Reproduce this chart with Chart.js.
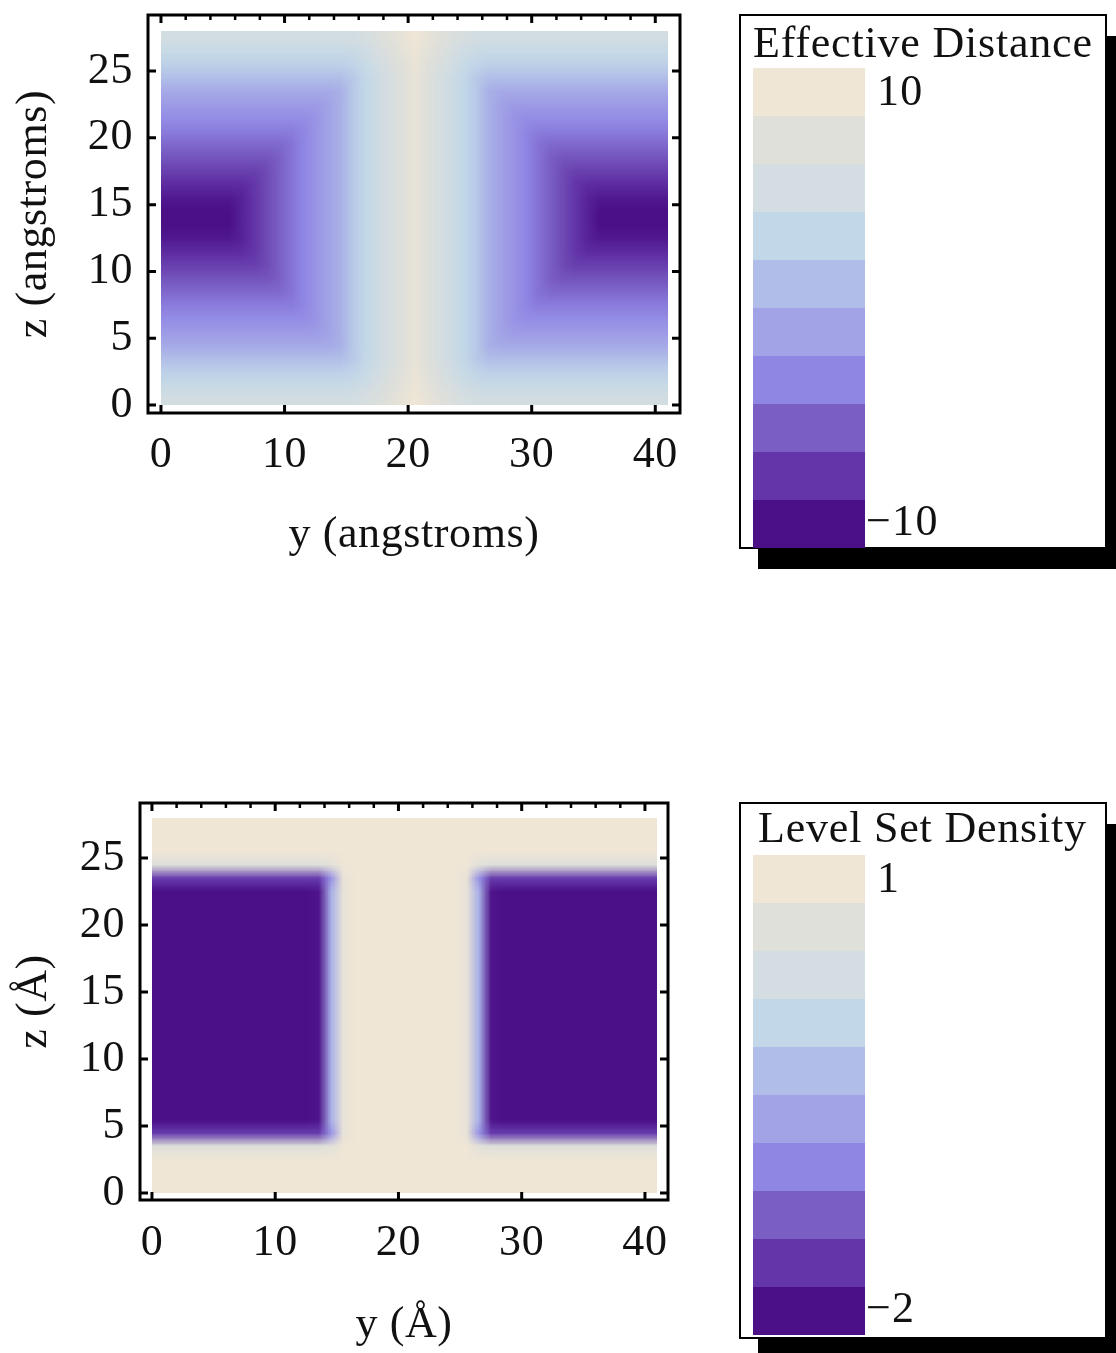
<!DOCTYPE html>
<html>
<head>
<meta charset="utf-8">
<title>Effective distance and level set density</title>
<script src="https://cdn.jsdelivr.net/npm/chart.js@4.4.1/dist/chart.umd.min.js"></script>
<style>
  body { margin: 0; background: #fff; }
  canvas { position: absolute; left: 0; display: block; }
  #distanceChart { top: 0; }
  #densityChart { top: 790px; }
</style>
</head>
<body>
<canvas id="distanceChart" width="1116" height="590"></canvas>
<canvas id="densityChart" width="1116" height="563"></canvas>
<script>
// Grid cell centres in angstroms (each cell is 1 A square)
const yCells = [0.5, 1.5, 2.5, 3.5, 4.5, 5.5, 6.5, 7.5, 8.5, 9.5, 10.5, 11.5, 12.5, 13.5, 14.5, 15.5, 16.5, 17.5, 18.5, 19.5, 20.5,
                21.5, 22.5, 23.5, 24.5, 25.5, 26.5, 27.5, 28.5, 29.5, 30.5, 31.5, 32.5, 33.5, 34.5, 35.5, 36.5, 37.5, 38.5, 39.5, 40.5];
const zCells = [0.5, 1.5, 2.5, 3.5, 4.5, 5.5, 6.5, 7.5, 8.5, 9.5, 10.5, 11.5, 12.5, 13.5,
                14.5, 15.5, 16.5, 17.5, 18.5, 19.5, 20.5, 21.5, 22.5, 23.5, 24.5, 25.5, 26.5, 27.5];

// Axis ticks
const yTicks = [0, 10, 20, 30, 40];
const yMinorTicks = [2, 4, 6, 8, 12, 14, 16, 18, 22, 24, 26, 28, 32, 34, 36, 38];
const zTicks = [0, 5, 10, 15, 20, 25];

// Colour levels, lowest value first
const levelColours = ['#4b0f86', '#6335a8', '#7a5ec4', '#8f86e4', '#a2a2e6',
                      '#b0bde8', '#c2d8e8', '#d3dde2', '#e0e0da', '#efe6d6'];
const distanceRange = [-10, 10];
const densityRange = [-2, 1];
const distanceLegendLabels = ['10', '\u221210'];
const densityLegendLabels = ['1', '\u22122'];

// Effective distance, one row per z cell (bottom row first)
const distanceRows = [
  [4.9, 4.9, 4.9, 4.9, 4.9, 4.9, 4.9, 4.9, 4.9, 4.9, 4.9, 4.9, 4.9, 4.9, 4.9, 5.0, 5.5, 6.3, 7.1, 8.1, 9.1, 8.1, 7.1, 6.3, 5.5, 5.0, 4.9, 4.9, 4.9, 4.9, 4.9, 4.9, 4.9, 4.9, 4.9, 4.9, 4.9, 4.9, 4.9, 4.9, 4.9],
  [3.6, 3.6, 3.6, 3.6, 3.6, 3.6, 3.6, 3.6, 3.6, 3.6, 3.6, 3.6, 3.6, 3.6, 3.6, 3.9, 4.5, 5.4, 6.4, 7.5, 8.6, 7.5, 6.4, 5.4, 4.5, 3.9, 3.6, 3.6, 3.6, 3.6, 3.6, 3.6, 3.6, 3.6, 3.6, 3.6, 3.6, 3.6, 3.6, 3.6, 3.6],
  [2.4, 2.4, 2.4, 2.4, 2.4, 2.4, 2.4, 2.4, 2.4, 2.4, 2.4, 2.4, 2.4, 2.4, 2.4, 2.8, 3.6, 4.8, 5.9, 7.0, 8.3, 7.0, 5.9, 4.8, 3.6, 2.8, 2.4, 2.4, 2.4, 2.4, 2.4, 2.4, 2.4, 2.4, 2.4, 2.4, 2.4, 2.4, 2.4, 2.4, 2.4],
  [1.1, 1.1, 1.1, 1.1, 1.1, 1.1, 1.1, 1.1, 1.1, 1.1, 1.1, 1.1, 1.1, 1.1, 1.1, 1.9, 3.1, 4.3, 5.5, 6.8, 8.0, 6.8, 5.5, 4.3, 3.1, 1.9, 1.1, 1.1, 1.1, 1.1, 1.1, 1.1, 1.1, 1.1, 1.1, 1.1, 1.1, 1.1, 1.1, 1.1, 1.1],
  [-0.5, -0.5, -0.5, -0.5, -0.5, -0.5, -0.5, -0.5, -0.5, -0.5, -0.5, -0.5, -0.5, -0.5, 0, 1.8, 3.0, 4.3, 5.5, 6.8, 8.0, 6.8, 5.5, 4.3, 3.0, 1.8, 0, -0.5, -0.5, -0.5, -0.5, -0.5, -0.5, -0.5, -0.5, -0.5, -0.5, -0.5, -0.5, -0.5, -0.5],
  [-1.5, -1.5, -1.5, -1.5, -1.5, -1.5, -1.5, -1.5, -1.5, -1.5, -1.5, -1.5, -1.5, -1, 0, 1.8, 3.0, 4.3, 5.5, 6.8, 8.0, 6.8, 5.5, 4.3, 3.0, 1.8, 0, -1, -1.5, -1.5, -1.5, -1.5, -1.5, -1.5, -1.5, -1.5, -1.5, -1.5, -1.5, -1.5, -1.5],
  [-2.5, -2.5, -2.5, -2.5, -2.5, -2.5, -2.5, -2.5, -2.5, -2.5, -2.5, -2.5, -2, -1, 0, 1.8, 3.0, 4.3, 5.5, 6.8, 8.0, 6.8, 5.5, 4.3, 3.0, 1.8, 0, -1, -2, -2.5, -2.5, -2.5, -2.5, -2.5, -2.5, -2.5, -2.5, -2.5, -2.5, -2.5, -2.5],
  [-3.5, -3.5, -3.5, -3.5, -3.5, -3.5, -3.5, -3.5, -3.5, -3.5, -3.5, -3, -2, -1, 0, 1.8, 3.0, 4.3, 5.5, 6.8, 8.0, 6.8, 5.5, 4.3, 3.0, 1.8, 0, -1, -2, -3, -3.5, -3.5, -3.5, -3.5, -3.5, -3.5, -3.5, -3.5, -3.5, -3.5, -3.5],
  [-4.5, -4.5, -4.5, -4.5, -4.5, -4.5, -4.5, -4.5, -4.5, -4.5, -4, -3, -2, -1, 0, 1.8, 3.0, 4.3, 5.5, 6.8, 8.0, 6.8, 5.5, 4.3, 3.0, 1.8, 0, -1, -2, -3, -4, -4.5, -4.5, -4.5, -4.5, -4.5, -4.5, -4.5, -4.5, -4.5, -4.5],
  [-5.5, -5.5, -5.5, -5.5, -5.5, -5.5, -5.5, -5.5, -5.5, -5, -4, -3, -2, -1, 0, 1.8, 3.0, 4.3, 5.5, 6.8, 8.0, 6.8, 5.5, 4.3, 3.0, 1.8, 0, -1, -2, -3, -4, -5, -5.5, -5.5, -5.5, -5.5, -5.5, -5.5, -5.5, -5.5, -5.5],
  [-6.5, -6.5, -6.5, -6.5, -6.5, -6.5, -6.5, -6.5, -6, -5, -4, -3, -2, -1, 0, 1.8, 3.0, 4.3, 5.5, 6.8, 8.0, 6.8, 5.5, 4.3, 3.0, 1.8, 0, -1, -2, -3, -4, -5, -6, -6.5, -6.5, -6.5, -6.5, -6.5, -6.5, -6.5, -6.5],
  [-7.5, -7.5, -7.5, -7.5, -7.5, -7.5, -7.5, -7, -6, -5, -4, -3, -2, -1, 0, 1.8, 3.0, 4.3, 5.5, 6.8, 8.0, 6.8, 5.5, 4.3, 3.0, 1.8, 0, -1, -2, -3, -4, -5, -6, -7, -7.5, -7.5, -7.5, -7.5, -7.5, -7.5, -7.5],
  [-8.5, -8.5, -8.5, -8.5, -8.5, -8.5, -8, -7, -6, -5, -4, -3, -2, -1, 0, 1.8, 3.0, 4.3, 5.5, 6.8, 8.0, 6.8, 5.5, 4.3, 3.0, 1.8, 0, -1, -2, -3, -4, -5, -6, -7, -8, -8.5, -8.5, -8.5, -8.5, -8.5, -8.5],
  [-9.5, -9.5, -9.5, -9.5, -9.5, -9, -8, -7, -6, -5, -4, -3, -2, -1, 0, 1.8, 3.0, 4.3, 5.5, 6.8, 8.0, 6.8, 5.5, 4.3, 3.0, 1.8, 0, -1, -2, -3, -4, -5, -6, -7, -8, -9, -9.5, -9.5, -9.5, -9.5, -9.5],
  [-9.5, -9.5, -9.5, -9.5, -9.5, -9, -8, -7, -6, -5, -4, -3, -2, -1, 0, 1.8, 3.0, 4.3, 5.5, 6.8, 8.0, 6.8, 5.5, 4.3, 3.0, 1.8, 0, -1, -2, -3, -4, -5, -6, -7, -8, -9, -9.5, -9.5, -9.5, -9.5, -9.5],
  [-8.5, -8.5, -8.5, -8.5, -8.5, -8.5, -8, -7, -6, -5, -4, -3, -2, -1, 0, 1.8, 3.0, 4.3, 5.5, 6.8, 8.0, 6.8, 5.5, 4.3, 3.0, 1.8, 0, -1, -2, -3, -4, -5, -6, -7, -8, -8.5, -8.5, -8.5, -8.5, -8.5, -8.5],
  [-7.5, -7.5, -7.5, -7.5, -7.5, -7.5, -7.5, -7, -6, -5, -4, -3, -2, -1, 0, 1.8, 3.0, 4.3, 5.5, 6.8, 8.0, 6.8, 5.5, 4.3, 3.0, 1.8, 0, -1, -2, -3, -4, -5, -6, -7, -7.5, -7.5, -7.5, -7.5, -7.5, -7.5, -7.5],
  [-6.5, -6.5, -6.5, -6.5, -6.5, -6.5, -6.5, -6.5, -6, -5, -4, -3, -2, -1, 0, 1.8, 3.0, 4.3, 5.5, 6.8, 8.0, 6.8, 5.5, 4.3, 3.0, 1.8, 0, -1, -2, -3, -4, -5, -6, -6.5, -6.5, -6.5, -6.5, -6.5, -6.5, -6.5, -6.5],
  [-5.5, -5.5, -5.5, -5.5, -5.5, -5.5, -5.5, -5.5, -5.5, -5, -4, -3, -2, -1, 0, 1.8, 3.0, 4.3, 5.5, 6.8, 8.0, 6.8, 5.5, 4.3, 3.0, 1.8, 0, -1, -2, -3, -4, -5, -5.5, -5.5, -5.5, -5.5, -5.5, -5.5, -5.5, -5.5, -5.5],
  [-4.5, -4.5, -4.5, -4.5, -4.5, -4.5, -4.5, -4.5, -4.5, -4.5, -4, -3, -2, -1, 0, 1.8, 3.0, 4.3, 5.5, 6.8, 8.0, 6.8, 5.5, 4.3, 3.0, 1.8, 0, -1, -2, -3, -4, -4.5, -4.5, -4.5, -4.5, -4.5, -4.5, -4.5, -4.5, -4.5, -4.5],
  [-3.5, -3.5, -3.5, -3.5, -3.5, -3.5, -3.5, -3.5, -3.5, -3.5, -3.5, -3, -2, -1, 0, 1.8, 3.0, 4.3, 5.5, 6.8, 8.0, 6.8, 5.5, 4.3, 3.0, 1.8, 0, -1, -2, -3, -3.5, -3.5, -3.5, -3.5, -3.5, -3.5, -3.5, -3.5, -3.5, -3.5, -3.5],
  [-2.5, -2.5, -2.5, -2.5, -2.5, -2.5, -2.5, -2.5, -2.5, -2.5, -2.5, -2.5, -2, -1, 0, 1.8, 3.0, 4.3, 5.5, 6.8, 8.0, 6.8, 5.5, 4.3, 3.0, 1.8, 0, -1, -2, -2.5, -2.5, -2.5, -2.5, -2.5, -2.5, -2.5, -2.5, -2.5, -2.5, -2.5, -2.5],
  [-1.5, -1.5, -1.5, -1.5, -1.5, -1.5, -1.5, -1.5, -1.5, -1.5, -1.5, -1.5, -1.5, -1, 0, 1.8, 3.0, 4.3, 5.5, 6.8, 8.0, 6.8, 5.5, 4.3, 3.0, 1.8, 0, -1, -1.5, -1.5, -1.5, -1.5, -1.5, -1.5, -1.5, -1.5, -1.5, -1.5, -1.5, -1.5, -1.5],
  [-0.5, -0.5, -0.5, -0.5, -0.5, -0.5, -0.5, -0.5, -0.5, -0.5, -0.5, -0.5, -0.5, -0.5, 0, 1.8, 3.0, 4.3, 5.5, 6.8, 8.0, 6.8, 5.5, 4.3, 3.0, 1.8, 0, -0.5, -0.5, -0.5, -0.5, -0.5, -0.5, -0.5, -0.5, -0.5, -0.5, -0.5, -0.5, -0.5, -0.5],
  [1.1, 1.1, 1.1, 1.1, 1.1, 1.1, 1.1, 1.1, 1.1, 1.1, 1.1, 1.1, 1.1, 1.1, 1.1, 1.9, 3.1, 4.3, 5.5, 6.8, 8.0, 6.8, 5.5, 4.3, 3.1, 1.9, 1.1, 1.1, 1.1, 1.1, 1.1, 1.1, 1.1, 1.1, 1.1, 1.1, 1.1, 1.1, 1.1, 1.1, 1.1],
  [2.4, 2.4, 2.4, 2.4, 2.4, 2.4, 2.4, 2.4, 2.4, 2.4, 2.4, 2.4, 2.4, 2.4, 2.4, 2.8, 3.6, 4.8, 5.9, 7.0, 8.3, 7.0, 5.9, 4.8, 3.6, 2.8, 2.4, 2.4, 2.4, 2.4, 2.4, 2.4, 2.4, 2.4, 2.4, 2.4, 2.4, 2.4, 2.4, 2.4, 2.4],
  [3.6, 3.6, 3.6, 3.6, 3.6, 3.6, 3.6, 3.6, 3.6, 3.6, 3.6, 3.6, 3.6, 3.6, 3.6, 3.9, 4.5, 5.4, 6.4, 7.5, 8.6, 7.5, 6.4, 5.4, 4.5, 3.9, 3.6, 3.6, 3.6, 3.6, 3.6, 3.6, 3.6, 3.6, 3.6, 3.6, 3.6, 3.6, 3.6, 3.6, 3.6],
  [4.9, 4.9, 4.9, 4.9, 4.9, 4.9, 4.9, 4.9, 4.9, 4.9, 4.9, 4.9, 4.9, 4.9, 4.9, 5.0, 5.5, 6.3, 7.1, 8.1, 9.1, 8.1, 7.1, 6.3, 5.5, 5.0, 4.9, 4.9, 4.9, 4.9, 4.9, 4.9, 4.9, 4.9, 4.9, 4.9, 4.9, 4.9, 4.9, 4.9, 4.9]
];

// Level set density, one row per z cell (bottom row first)
const densityRows = [
  [1, 1, 1, 1, 1, 1, 1, 1, 1, 1, 1, 1, 1, 1, 1, 1, 1, 1, 1, 1, 1, 1, 1, 1, 1, 1, 1, 1, 1, 1, 1, 1, 1, 1, 1, 1, 1, 1, 1, 1, 1],
  [1, 1, 1, 1, 1, 1, 1, 1, 1, 1, 1, 1, 1, 1, 1, 1, 1, 1, 1, 1, 1, 1, 1, 1, 1, 1, 1, 1, 1, 1, 1, 1, 1, 1, 1, 1, 1, 1, 1, 1, 1],
  [1, 1, 1, 1, 1, 1, 1, 1, 1, 1, 1, 1, 1, 1, 1, 1, 1, 1, 1, 1, 1, 1, 1, 1, 1, 1, 1, 1, 1, 1, 1, 1, 1, 1, 1, 1, 1, 1, 1, 1, 1],
  [0.5, 0.5, 0.5, 0.5, 0.5, 0.5, 0.5, 0.5, 0.5, 0.5, 0.5, 0.5, 0.5, 0.5, 0.6, 0.9, 1, 1, 1, 1, 1, 1, 1, 1, 1, 0.9, 0.6, 0.5, 0.5, 0.5, 0.5, 0.5, 0.5, 0.5, 0.5, 0.5, 0.5, 0.5, 0.5, 0.5, 0.5],
  [-1.5, -1.5, -1.5, -1.5, -1.5, -1.5, -1.5, -1.5, -1.5, -1.5, -1.5, -1.5, -1.5, -1.5, -0.8, 0.7, 1, 1, 1, 1, 1, 1, 1, 1, 1, 0.7, -0.8, -1.5, -1.5, -1.5, -1.5, -1.5, -1.5, -1.5, -1.5, -1.5, -1.5, -1.5, -1.5, -1.5, -1.5],
  [-2, -2, -2, -2, -2, -2, -2, -2, -2, -2, -2, -2, -2, -1.8, -0.5, 0.7, 1, 1, 1, 1, 1, 1, 1, 1, 1, 0.7, -0.5, -1.8, -2, -2, -2, -2, -2, -2, -2, -2, -2, -2, -2, -2, -2],
  [-2, -2, -2, -2, -2, -2, -2, -2, -2, -2, -2, -2, -2, -1.8, -0.5, 0.7, 1, 1, 1, 1, 1, 1, 1, 1, 1, 0.7, -0.5, -1.8, -2, -2, -2, -2, -2, -2, -2, -2, -2, -2, -2, -2, -2],
  [-2, -2, -2, -2, -2, -2, -2, -2, -2, -2, -2, -2, -2, -1.8, -0.5, 0.7, 1, 1, 1, 1, 1, 1, 1, 1, 1, 0.7, -0.5, -1.8, -2, -2, -2, -2, -2, -2, -2, -2, -2, -2, -2, -2, -2],
  [-2, -2, -2, -2, -2, -2, -2, -2, -2, -2, -2, -2, -2, -1.8, -0.5, 0.7, 1, 1, 1, 1, 1, 1, 1, 1, 1, 0.7, -0.5, -1.8, -2, -2, -2, -2, -2, -2, -2, -2, -2, -2, -2, -2, -2],
  [-2, -2, -2, -2, -2, -2, -2, -2, -2, -2, -2, -2, -2, -1.8, -0.5, 0.7, 1, 1, 1, 1, 1, 1, 1, 1, 1, 0.7, -0.5, -1.8, -2, -2, -2, -2, -2, -2, -2, -2, -2, -2, -2, -2, -2],
  [-2, -2, -2, -2, -2, -2, -2, -2, -2, -2, -2, -2, -2, -1.8, -0.5, 0.7, 1, 1, 1, 1, 1, 1, 1, 1, 1, 0.7, -0.5, -1.8, -2, -2, -2, -2, -2, -2, -2, -2, -2, -2, -2, -2, -2],
  [-2, -2, -2, -2, -2, -2, -2, -2, -2, -2, -2, -2, -2, -1.8, -0.5, 0.7, 1, 1, 1, 1, 1, 1, 1, 1, 1, 0.7, -0.5, -1.8, -2, -2, -2, -2, -2, -2, -2, -2, -2, -2, -2, -2, -2],
  [-2, -2, -2, -2, -2, -2, -2, -2, -2, -2, -2, -2, -2, -1.8, -0.5, 0.7, 1, 1, 1, 1, 1, 1, 1, 1, 1, 0.7, -0.5, -1.8, -2, -2, -2, -2, -2, -2, -2, -2, -2, -2, -2, -2, -2],
  [-2, -2, -2, -2, -2, -2, -2, -2, -2, -2, -2, -2, -2, -1.8, -0.5, 0.7, 1, 1, 1, 1, 1, 1, 1, 1, 1, 0.7, -0.5, -1.8, -2, -2, -2, -2, -2, -2, -2, -2, -2, -2, -2, -2, -2],
  [-2, -2, -2, -2, -2, -2, -2, -2, -2, -2, -2, -2, -2, -1.8, -0.5, 0.7, 1, 1, 1, 1, 1, 1, 1, 1, 1, 0.7, -0.5, -1.8, -2, -2, -2, -2, -2, -2, -2, -2, -2, -2, -2, -2, -2],
  [-2, -2, -2, -2, -2, -2, -2, -2, -2, -2, -2, -2, -2, -1.8, -0.5, 0.7, 1, 1, 1, 1, 1, 1, 1, 1, 1, 0.7, -0.5, -1.8, -2, -2, -2, -2, -2, -2, -2, -2, -2, -2, -2, -2, -2],
  [-2, -2, -2, -2, -2, -2, -2, -2, -2, -2, -2, -2, -2, -1.8, -0.5, 0.7, 1, 1, 1, 1, 1, 1, 1, 1, 1, 0.7, -0.5, -1.8, -2, -2, -2, -2, -2, -2, -2, -2, -2, -2, -2, -2, -2],
  [-2, -2, -2, -2, -2, -2, -2, -2, -2, -2, -2, -2, -2, -1.8, -0.5, 0.7, 1, 1, 1, 1, 1, 1, 1, 1, 1, 0.7, -0.5, -1.8, -2, -2, -2, -2, -2, -2, -2, -2, -2, -2, -2, -2, -2],
  [-2, -2, -2, -2, -2, -2, -2, -2, -2, -2, -2, -2, -2, -1.8, -0.5, 0.7, 1, 1, 1, 1, 1, 1, 1, 1, 1, 0.7, -0.5, -1.8, -2, -2, -2, -2, -2, -2, -2, -2, -2, -2, -2, -2, -2],
  [-2, -2, -2, -2, -2, -2, -2, -2, -2, -2, -2, -2, -2, -1.8, -0.5, 0.7, 1, 1, 1, 1, 1, 1, 1, 1, 1, 0.7, -0.5, -1.8, -2, -2, -2, -2, -2, -2, -2, -2, -2, -2, -2, -2, -2],
  [-2, -2, -2, -2, -2, -2, -2, -2, -2, -2, -2, -2, -2, -1.8, -0.5, 0.7, 1, 1, 1, 1, 1, 1, 1, 1, 1, 0.7, -0.5, -1.8, -2, -2, -2, -2, -2, -2, -2, -2, -2, -2, -2, -2, -2],
  [-2, -2, -2, -2, -2, -2, -2, -2, -2, -2, -2, -2, -2, -1.8, -0.5, 0.7, 1, 1, 1, 1, 1, 1, 1, 1, 1, 0.7, -0.5, -1.8, -2, -2, -2, -2, -2, -2, -2, -2, -2, -2, -2, -2, -2],
  [-2, -2, -2, -2, -2, -2, -2, -2, -2, -2, -2, -2, -2, -1.8, -0.5, 0.7, 1, 1, 1, 1, 1, 1, 1, 1, 1, 0.7, -0.5, -1.8, -2, -2, -2, -2, -2, -2, -2, -2, -2, -2, -2, -2, -2],
  [-1.5, -1.5, -1.5, -1.5, -1.5, -1.5, -1.5, -1.5, -1.5, -1.5, -1.5, -1.5, -1.5, -1.5, -0.8, 0.7, 1, 1, 1, 1, 1, 1, 1, 1, 1, 0.7, -0.8, -1.5, -1.5, -1.5, -1.5, -1.5, -1.5, -1.5, -1.5, -1.5, -1.5, -1.5, -1.5, -1.5, -1.5],
  [0.5, 0.5, 0.5, 0.5, 0.5, 0.5, 0.5, 0.5, 0.5, 0.5, 0.5, 0.5, 0.5, 0.5, 0.6, 0.9, 1, 1, 1, 1, 1, 1, 1, 1, 1, 0.9, 0.6, 0.5, 0.5, 0.5, 0.5, 0.5, 0.5, 0.5, 0.5, 0.5, 0.5, 0.5, 0.5, 0.5, 0.5],
  [1, 1, 1, 1, 1, 1, 1, 1, 1, 1, 1, 1, 1, 1, 1, 1, 1, 1, 1, 1, 1, 1, 1, 1, 1, 1, 1, 1, 1, 1, 1, 1, 1, 1, 1, 1, 1, 1, 1, 1, 1],
  [1, 1, 1, 1, 1, 1, 1, 1, 1, 1, 1, 1, 1, 1, 1, 1, 1, 1, 1, 1, 1, 1, 1, 1, 1, 1, 1, 1, 1, 1, 1, 1, 1, 1, 1, 1, 1, 1, 1, 1, 1],
  [1, 1, 1, 1, 1, 1, 1, 1, 1, 1, 1, 1, 1, 1, 1, 1, 1, 1, 1, 1, 1, 1, 1, 1, 1, 1, 1, 1, 1, 1, 1, 1, 1, 1, 1, 1, 1, 1, 1, 1, 1]
];

const SERIF = '"Liberation Serif", "Times New Roman", serif';
Chart.defaults.font.family = SERIF;
Chart.defaults.color = '#111';

const levelRgb = levelColours.map(h => [1, 3, 5].map(k => parseInt(h.slice(k, k + 2), 16)));

// continuous colour between the level swatches
function colourFor(v, [lo, hi]) {
  const t = Math.min(1, Math.max(0, (v - lo) / (hi - lo)));
  const pos = Math.min(levelRgb.length - 1, Math.max(0, t * levelRgb.length - 0.5));
  const k = Math.min(levelRgb.length - 2, Math.floor(pos));
  const f = pos - k;
  return levelRgb[k].map((c, n) => Math.round(c + (levelRgb[k + 1][n] - c) * f));
}

// slightly open letter spacing for all chart text
const textSpacingPlugin = {
  id: 'textSpacing',
  beforeDraw(chart) { chart.ctx.letterSpacing = '0.6px'; }
};

// paints the grid cells, placed with the chart's own scales
const densityPlotPlugin = {
  id: 'densityPlot',
  beforeDatasetsDraw(chart, args, opts) {
    const { ctx, scales: { x, y } } = chart;
    const rows = opts.rows;
    const img = document.createElement('canvas');
    img.width = yCells.length;
    img.height = zCells.length;
    const ictx = img.getContext('2d');
    const pix = ictx.createImageData(img.width, img.height);
    rows.forEach((row, j) => {
      row.forEach((v, i) => {
        const [r, g, b] = colourFor(v, opts.range);
        const k = ((img.height - 1 - j) * img.width + i) * 4;
        pix.data[k] = r; pix.data[k + 1] = g; pix.data[k + 2] = b; pix.data[k + 3] = 255;
      });
    });
    ictx.putImageData(pix, 0, 0);

    const left = x.getPixelForValue(yCells[0] - 0.5);
    const right = x.getPixelForValue(yCells[yCells.length - 1] + 0.5);
    const top = y.getPixelForValue(zCells[zCells.length - 1] + 0.5);
    const bottom = y.getPixelForValue(zCells[0] - 0.5);
    ctx.save();
    ctx.imageSmoothingEnabled = true;
    ctx.drawImage(img, left, top, right - left, bottom - top);
    ctx.restore();
  }
};

// heavy frame with inward ticks on all four sides
const framePlugin = {
  id: 'frame',
  afterDatasetsDraw(chart) {
    const { ctx, chartArea: a, scales: { x, y } } = chart;
    ctx.save();
    ctx.strokeStyle = '#000';
    ctx.lineWidth = 3;
    ctx.strokeRect(a.left, a.top, a.width, a.height);
    ctx.beginPath();
    yTicks.forEach(v => {
      const px = x.getPixelForValue(v);
      ctx.moveTo(px, a.bottom); ctx.lineTo(px, a.bottom - 8);
      ctx.moveTo(px, a.top); ctx.lineTo(px, a.top + 8);
    });
    zTicks.forEach(v => {
      const py = y.getPixelForValue(v);
      ctx.moveTo(a.left, py); ctx.lineTo(a.left + 8, py);
      ctx.moveTo(a.right, py); ctx.lineTo(a.right - 8, py);
    });
    ctx.stroke();
    ctx.lineWidth = 2.5;
    ctx.beginPath();
    yMinorTicks.forEach(v => {
      const px = x.getPixelForValue(v);
      ctx.moveTo(px, a.top); ctx.lineTo(px, a.top + 5);
    });
    ctx.stroke();
    ctx.restore();
  }
};

// boxed colour legend with a drop shadow
const colourLegendPlugin = {
  id: 'colourLegend',
  afterDraw(chart, args, opts) {
    const ctx = chart.ctx;
    const { box, bar } = opts;
    ctx.save();
    ctx.fillStyle = '#000';
    ctx.fillRect(box.x + 18, box.y + 21, box.w, box.h);
    ctx.fillStyle = '#fff';
    ctx.fillRect(box.x, box.y, box.w, box.h);
    ctx.lineWidth = 2;
    ctx.strokeStyle = '#000';
    ctx.strokeRect(box.x, box.y, box.w, box.h);

    const bandH = bar.h / levelColours.length;
    levelColours.forEach((c, k) => {
      ctx.fillStyle = c;
      ctx.fillRect(bar.x, bar.y + bar.h - (k + 1) * bandH, bar.w, bandH);
    });

    ctx.fillStyle = '#111';
    ctx.textBaseline = 'middle';
    ctx.textAlign = 'left';
    ctx.font = '44px ' + SERIF;
    ctx.letterSpacing = '0.8px';
    ctx.fillText(opts.title, opts.titleAt[0], opts.titleAt[1]);
    ctx.letterSpacing = '1.3px';
    ctx.fillText(opts.labels[0], opts.highAt[0], opts.highAt[1]);
    ctx.fillText(opts.labels[1], opts.lowAt[0], opts.lowAt[1]);
    ctx.restore();
  }
};

function makePanel(canvasId, p) {
  const ctx = document.getElementById(canvasId).getContext('2d');
  return new Chart(ctx, {
    type: 'scatter',
    data: { datasets: [{ data: [], pointRadius: 0 }] },
    plugins: [textSpacingPlugin, densityPlotPlugin, framePlugin, colourLegendPlugin],
    options: {
      responsive: false,
      animation: false,
      layout: { padding: { top: p.top, right: p.right, left: 0, bottom: 0 } },
      plugins: {
        legend: { display: false },
        tooltip: { enabled: false },
        densityPlot: { rows: p.rows, range: p.range },
        colourLegend: p.legend
      },
      scales: {
        x: {
          type: 'linear',
          min: p.xMin,
          max: p.xMax,
          grid: { display: false, drawTicks: false },
          border: { display: false },
          afterBuildTicks: s => { s.ticks = yTicks.map(v => ({ value: v })); },
          ticks: { padding: p.xTickPad, maxRotation: 0, autoSkip: false, font: { size: 44 } },
          title: { display: true, text: p.xTitle, font: { size: 44 }, padding: { top: 0, bottom: p.xTitlePad } },
          afterFit: s => { s.height = p.xAxisHeight; s.paddingLeft = 0; s.paddingRight = 0; }
        },
        y: {
          type: 'linear',
          min: p.yMin,
          max: p.yMax,
          grid: { display: false, drawTicks: false },
          border: { display: false },
          afterBuildTicks: s => { s.ticks = zTicks.map(v => ({ value: v })); },
          ticks: { padding: 15, autoSkip: false, font: { size: 44 } },
          title: { display: true, text: p.yTitle, font: { size: 44 }, padding: { top: 8, bottom: 0 } },
          afterFit: s => { s.width = p.yAxisWidth; s.paddingTop = 0; s.paddingBottom = 0; }
        }
      }
    }
  });
}

document.addEventListener('DOMContentLoaded', () => {
  makePanel('distanceChart', {
    rows: distanceRows, range: distanceRange,
    top: 15, right: 436, yAxisWidth: 148, xAxisHeight: 177,
    xMin: -1.05, xMax: 42.0, yMin: -0.6, yMax: 29.2,
    xTickPad: 16, xTitlePad: 28,
    xTitle: 'y (angstroms)', yTitle: 'z (angstroms)',
    legend: {
      title: 'Effective Distance', labels: distanceLegendLabels,
      box: { x: 740, y: 15, w: 366, h: 533 },
      bar: { x: 753, y: 68, w: 112, h: 480 },
      titleAt: [753, 45], highAt: [877, 93], lowAt: [866, 523]
    }
  });
  makePanel('densityChart', {
    rows: densityRows, range: densityRange,
    top: 13, right: 448, yAxisWidth: 140, xAxisHeight: 153,
    xMin: -0.97, xMax: 41.87, yMin: -0.52, yMax: 29.1,
    xTickPad: 17, xTitlePad: 1,
    xTitle: 'y (\u00c5)', yTitle: 'z (\u00c5)',
    legend: {
      title: 'Level Set Density', labels: densityLegendLabels,
      box: { x: 740, y: 13, w: 366, h: 535 },
      bar: { x: 753, y: 65, w: 112, h: 480 },
      titleAt: [758, 40], highAt: [877, 90], lowAt: [866, 520]
    }
  });
});
</script>
</body>
</html>
